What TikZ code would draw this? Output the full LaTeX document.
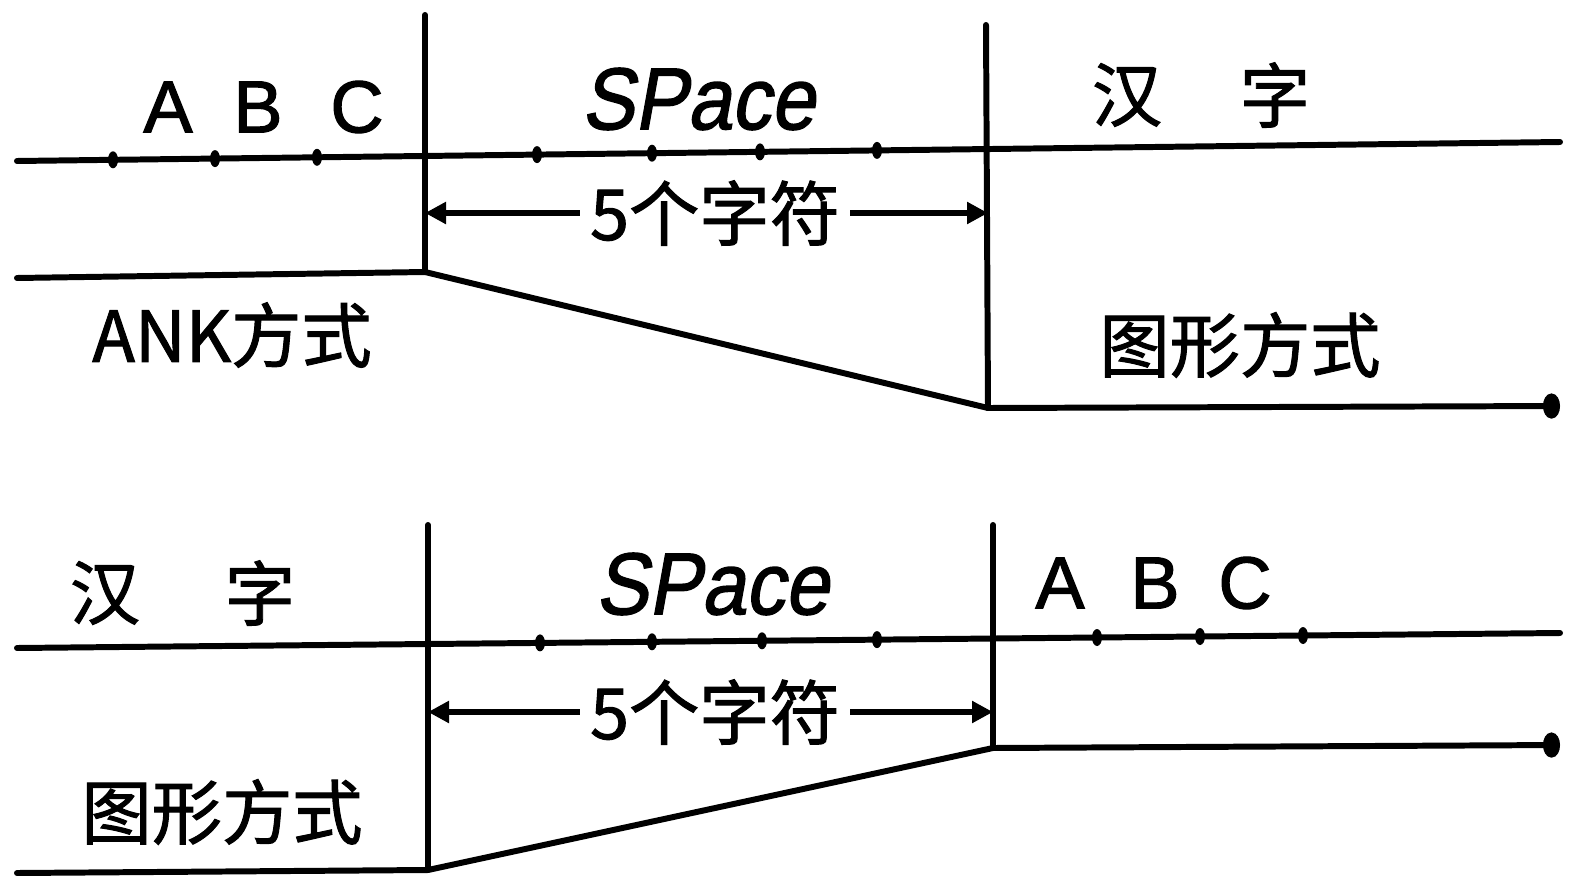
\documentclass[tikz,border=0pt]{standalone}
\usepackage{fontspec}
\setmainfont{Liberation Sans}[FakeBold=1.2]
\newfontfamily\cjk{Noto Sans CJK SC}[FakeBold=1.4]
\newfontfamily\ltrfont{Liberation Sans}[FakeBold=1.6]
\newfontfamily\spfont{Liberation Sans}[FakeBold=1.6,FakeSlant=0.2]
\usetikzlibrary{arrows.meta}
\tikzset{
  ln/.style={line width=3.4pt, line cap=round, line join=round},
  dimarr/.style={line width=3.6pt, -{Triangle[length=0.42cm,width=0.42cm]}},
  endarr/.style={ln, -{Circle[length=0.34cm,width=0.5cm]}},
  lbl/.style={font=\cjk\fontsize{40}{48}\selectfont, inner sep=0pt},
  ltr/.style={font=\ltrfont\fontsize{42}{50}\selectfont, inner sep=0pt},
  sp/.style={font=\spfont\fontsize{50}{56}\selectfont, inner sep=0pt},
  dimlbl/.style={font=\cjk\fontsize{40}{48}\selectfont, inner xsep=0.2cm, inner ysep=0pt},
  tick/.style={x radius=0.1cm, y radius=0.17cm}
}
\begin{document}
\begin{tikzpicture}[x=0.02cm,y=-0.02cm]
\useasboundingbox (0,0) rectangle (1569,879);
% ---------- top diagram ----------
\coordinate (a1) at (17,161);
\coordinate (a2) at (1560,142);
\coordinate (v1t) at (425,15);
\coordinate (v1b) at (425,272);
\coordinate (v2t) at (986,25);
\coordinate (v2b) at (988,408);
\coordinate (b0) at (17,278);
\coordinate (bend) at (1560,406);
\draw[ln] (a1) -- (a2);
\draw[ln] (v1t) -- (v1b);
\draw[ln] (v2t) -- (v2b);
\draw[ln] (b0) -- (v1b) -- (v2b);
\draw[endarr] (v2b) -- (bend);
\foreach \x/\y in {113/159.8,215/158.6,317/157.3,537/154.6,652/153.2,760/151.9,877/150.4}
  \fill (\x,\y) [tick] ellipse [];
\node[ltr] (tA) at (168,107) {A};
\node[ltr] (tB) at (258,107) {B};
\node[ltr] (tC) at (357,107) {C};
\node[sp] (tsp) at (698,99) {\scalebox{0.9}[1]{SPace}};
\node[lbl] (th1) at (1127,95) {汉};
\node[lbl] (th2) at (1275,95) {字};
\node[lbl] (tank) at (232,335) {ANK方式};
\node[lbl] (tgr) at (1240,345) {图形方式};
\node[dimlbl] (td) at (715,213) {5个字符};
\draw[dimarr] (td.west) -- (td.west -| v1b);
\draw[dimarr] (td.east) -- (td.east -| v2b);
% ---------- bottom diagram ----------
\coordinate (c1) at (17,648);
\coordinate (c2) at (1560,633);
\coordinate (w1t) at (428,525);
\coordinate (w1b) at (428,870);
\coordinate (w2t) at (993,525);
\coordinate (w2b) at (993,748);
\coordinate (d0) at (17,873);
\coordinate (dend) at (1560,745);
\draw[ln] (c1) -- (c2);
\draw[ln] (w1t) -- (w1b);
\draw[ln] (w2t) -- (w2b);
\draw[ln] (d0) -- (w1b) -- (w2b);
\draw[endarr] (w2b) -- (dend);
\foreach \x/\y in {540/642.9,652/641.8,762/640.8,877/639.6,1097/637.5,1200/636.5,1303/635.5}
  \fill (\x,\y) [tick] ellipse [];
\node[lbl] (bh1) at (105,593) {汉};
\node[lbl] (bh2) at (260,593) {字};
\node[sp] (bsp) at (712,584) {\scalebox{0.9}[1]{SPace}};
\node[ltr] (bA) at (1060,583) {A};
\node[ltr] (bB) at (1155,583) {B};
\node[ltr] (bC) at (1245,583) {C};
\node[lbl] (bgr) at (222,812) {图形方式};
\node[dimlbl] (bd) at (715,712) {5个字符};
\draw[dimarr] (bd.west) -- (bd.west -| w1b);
\draw[dimarr] (bd.east) -- (bd.east -| w2b);
\end{tikzpicture}
\end{document}
